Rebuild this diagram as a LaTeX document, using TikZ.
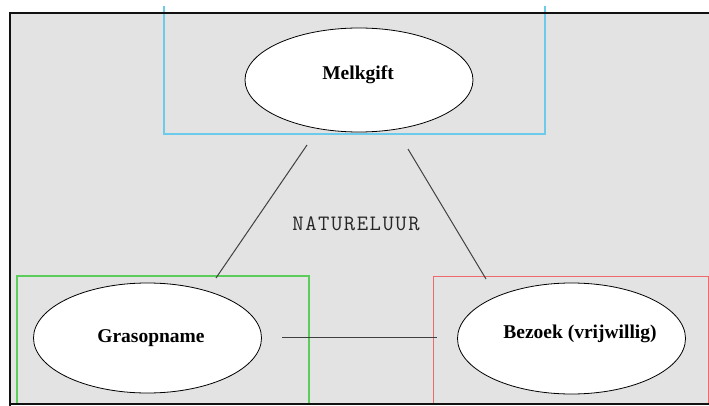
\documentclass[tikz,border=0pt]{standalone}
\usepackage{fontspec}
\setmainfont{Liberation Serif}
\setmonofont{Latin Modern Mono}[LetterSpace=7]
\usepackage{tikz}
\usetikzlibrary{shapes.geometric, positioning}
\definecolor{nu-frame}{HTML}{111111}
\definecolor{nu-fill}{HTML}{E3E3E3}
\definecolor{nu-line}{HTML}{404040}
\definecolor{nu-blue}{HTML}{6CCBEA}
\definecolor{nu-green}{HTML}{5ACD5A}
\definecolor{nu-red}{HTML}{EE6A6A}
\begin{document}
\begin{tikzpicture}[x=1pt, y=-1pt, line cap=butt, line join=miter,
    blob/.style={ellipse, draw=black, fill=white, line width=0.8pt,
      minimum width=228pt, inner sep=0pt},
    blobtext/.style={font=\fontsize{19.5}{22}\selectfont\bfseries},
    link/.style={draw=nu-line, line width=1pt}]
  \useasboundingbox (0,0) rectangle (709,406);
  % achtergrond
  \fill[nu-fill] (10,13.5) rectangle (712,404);
  % kaders
  \draw[nu-blue, line width=2pt] (163.5,6) -- (163.5,134) -- (545,134) -- (545,6);
  \draw[nu-green, line width=1.6pt] (17,404) -- (17,276) -- (309,276) -- (309,404);
  \draw[nu-red, line width=1pt] (433,404) -- (433,276) -- (708,276) -- (708,404);
  % ellipsen
  \node[blob, minimum height=104pt] (melk) at (359,80) {};
  \node[blobtext] at (358,75) {Melkgift};
  \node[blob, minimum height=110pt] (gras) at (147.5,338) {};
  \node[blobtext] at (151,338) {Grasopname};
  \node[blob, minimum height=111pt] (bezoek) at (571.5,338.5) {};
  \node[blobtext] at (580,334) {Bezoek (vrijwillig)};
  % verbindingen
  \coordinate (melkL) at (307,145);
  \coordinate (melkR) at (408,149);
  \coordinate (grasT) at (216,278);
  \coordinate (grasR) at (282,337);
  \coordinate (bezoekT) at (486,279);
  \coordinate (bezoekL) at (437,337);
  \draw[link] (melkL) -- (grasT);
  \draw[link] (melkR) -- (bezoekT);
  \draw[link] (grasR) -- (bezoekL);
  \node[font=\ttfamily\fontsize{22}{24}\selectfont, text=black!85]
    (natuur) at (356,224) {NATURELUUR};
  % rand
  \draw[nu-frame, line width=2pt] (10,406) -- (10,13.5) -- (712,13.5);
  \draw[nu-frame, line width=2pt] (10,404) -- (712,404);
\end{tikzpicture}
\end{document}
